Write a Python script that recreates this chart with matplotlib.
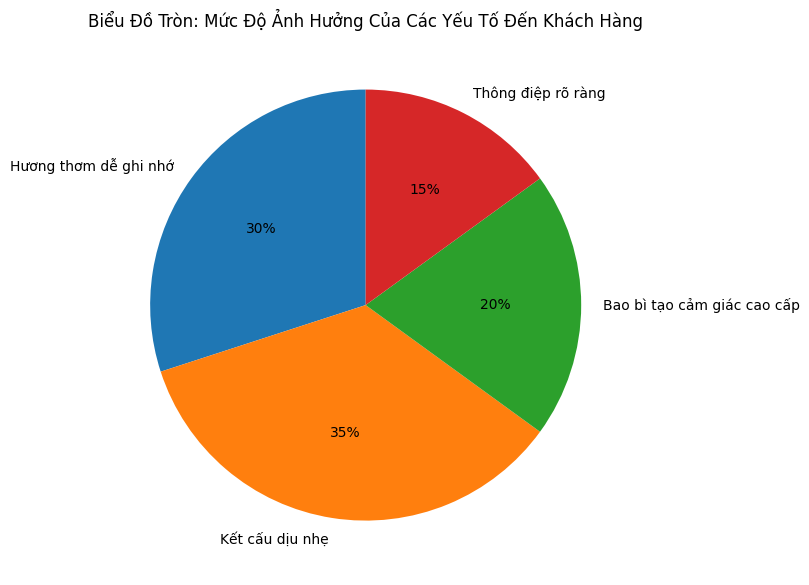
import matplotlib.pyplot as plt

# du lieu
labels = ['Hương thơm dễ ghi nhớ', 'Kết cấu dịu nhẹ', 'Bao bì tạo cảm giác cao cấp', 'Thông điệp rõ ràng']
values = [30, 35, 20, 15]
colors = ['#1f77b4', '#ff7f0e', '#2ca02c', '#d62728']

fig = plt.figure(figsize=(8.09, 5.85), dpi=100)
ax = fig.add_axes([0.119, 0.018, 0.666, 0.921])

ax.pie(values, labels=labels, colors=colors, autopct='%1.0f%%', startangle=90)
ax.set_aspect('equal')
ax.set_title('Biểu Đồ Tròn: Mức Độ Ảnh Hưởng Của Các Yếu Tố Đến Khách Hàng', fontsize=12)

fig.savefig('out.png', dpi=100)
